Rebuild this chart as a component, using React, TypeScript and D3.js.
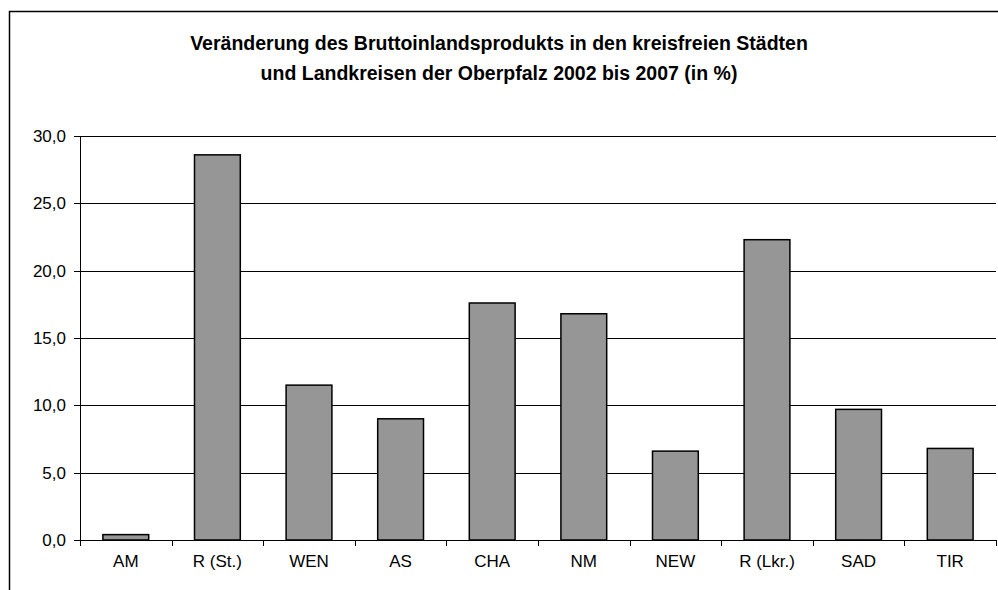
import React, { useEffect } from 'react';
import * as d3 from 'd3';

const categories = ['AM', 'R (St.)', 'WEN', 'AS', 'CHA', 'NM', 'NEW', 'R (Lkr.)', 'SAD', 'TIR'];
const values = [0.4, 28.6, 11.5, 9.0, 17.6, 16.8, 6.6, 22.3, 9.7, 6.8];
const yTicks = [0, 5, 10, 15, 20, 25, 30];
const titleLines = [
  'Veränderung des Bruttoinlandsprodukts in den kreisfreien Städten',
  'und Landkreisen der Oberpfalz 2002 bis 2007 (in %)',
];

const W = 998;
const H = 590;
const plot = { left: 80, right: 996, top: 136, bottom: 540 };
const font = '"Liberation Sans", Arial, sans-serif';

const App: React.FC = () => {
  useEffect(() => {
    document.body.style.margin = '0';
  }, []);

  const x = d3.scaleBand<string>()
    .domain(categories)
    .range([plot.left, plot.right])
    .paddingInner(0.5)
    .paddingOuter(0.25);
  const band = d3.scaleBand<string>().domain(categories).range([plot.left, plot.right]);
  const y = d3.scaleLinear().domain([0, 30]).range([plot.bottom, plot.top]);
  const fmt = (v: number) => d3.format('.1f')(v).replace('.', ',');

  return (
    <svg width={W} height={H} viewBox={`0 0 ${W} ${H}`} style={{ display: 'block', background: '#fff' }}>
      {/* outer chart border (cropped on right and bottom) */}
      <path d={`M9.5,${H} V11.5 H${W}`} fill="none" stroke="#000" strokeWidth={1.5} />

      {/* Title */}
      {titleLines.map((t, i) => (
        <text
          key={i}
          x={499}
          y={50 + i * 30}
          textAnchor="middle"
          fontFamily={font}
          fontWeight="bold"
          fontSize={19.5}
        >
          {t}
        </text>
      ))}

      {/* Grid lines + y ticks */}
      {yTicks.map((t) => (
        <g key={t}>
          <line x1={plot.left - 6} x2={plot.right} y1={Math.round(y(t)) + 0.5} y2={Math.round(y(t)) + 0.5} stroke="#000" strokeWidth={1} />
          <text
            x={plot.left - 14}
            y={y(t)}
            dy="0.36em"
            textAnchor="end"
            fontFamily={font}
            fontSize={17}
          >
            {fmt(t)}
          </text>
        </g>
      ))}

      {/* y axis */}
      <line x1={plot.left + 0.5} x2={plot.left + 0.5} y1={plot.top} y2={plot.bottom} stroke="#000" />

      {/* Bars */}
      {categories.map((c, i) => (
        <rect
          key={c}
          x={x(c)}
          y={y(values[i])}
          width={x.bandwidth()}
          height={y(0) - y(values[i])}
          fill="#969696"
          stroke="#000"
          strokeWidth={1.5}
        />
      ))}

      {/* x axis ticks */}
      {categories.concat(['__end']).map((c, i) => {
        const px = i < categories.length ? (band(c) as number) : plot.right;
        return (
          <line key={c} x1={Math.round(px) + 0.5} x2={Math.round(px) + 0.5} y1={plot.bottom} y2={plot.bottom + 6} stroke="#000" />
        );
      })}

      {/* x labels */}
      {categories.map((c) => (
        <text
          key={c}
          x={(band(c) as number) + band.bandwidth() / 2}
          y={567}
          textAnchor="middle"
          fontFamily={font}
          fontSize={17}
        >
          {c}
        </text>
      ))}
    </svg>
  );
};

export default App;
